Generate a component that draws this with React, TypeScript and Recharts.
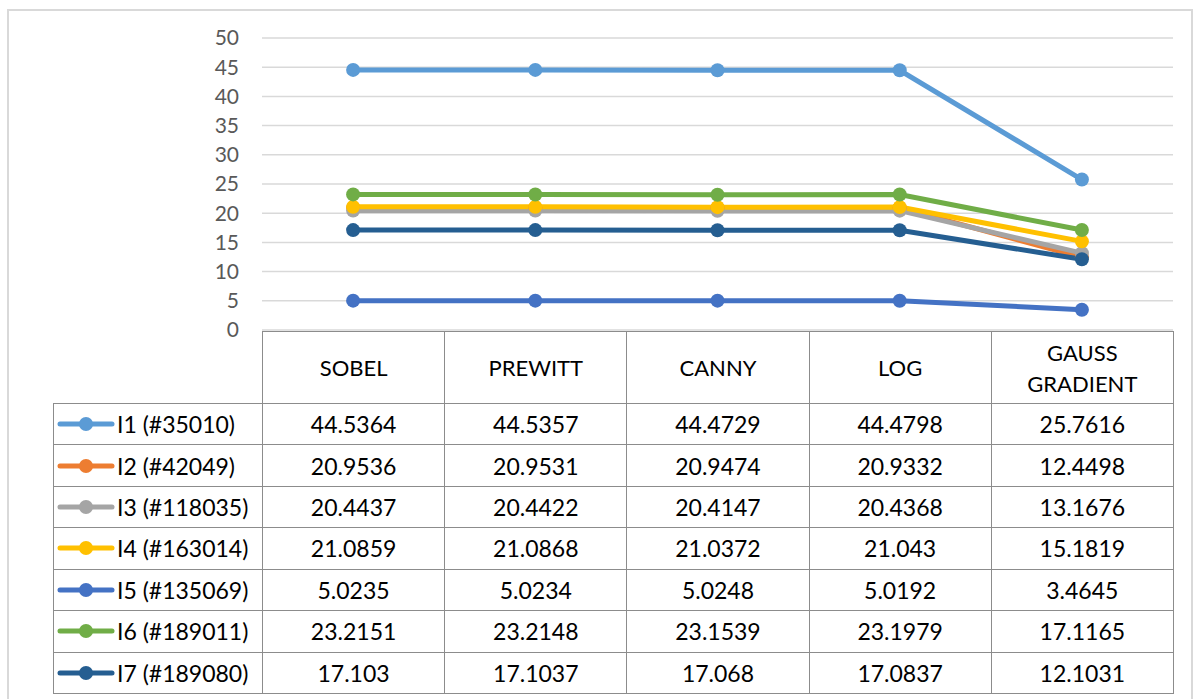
import { LineChart, Line, XAxis, YAxis, CartesianGrid } from "recharts";

const categories = ["SOBEL", "PREWITT", "CANNY", "LOG", "GAUSS GRADIENT"];
const seriesNames = [
  "I1 (#35010)",
  "I2 (#42049)",
  "I3 (#118035)",
  "I4 (#163014)",
  "I5 (#135069)",
  "I6 (#189011)",
  "I7 (#189080)",
];
const i1 = [44.5364, 44.5357, 44.4729, 44.4798, 25.7616];
const i2 = [20.9536, 20.9531, 20.9474, 20.9332, 12.4498];
const i3 = [20.4437, 20.4422, 20.4147, 20.4368, 13.1676];
const i4 = [21.0859, 21.0868, 21.0372, 21.043, 15.1819];
const i5 = [5.0235, 5.0234, 5.0248, 5.0192, 3.4645];
const i6 = [23.2151, 23.2148, 23.1539, 23.1979, 17.1165];
const i7 = [17.103, 17.1037, 17.068, 17.0837, 12.1031];
const yTicks = [0, 5, 10, 15, 20, 25, 30, 35, 40, 45, 50];

const seriesValues = [i1, i2, i3, i4, i5, i6, i7];
const colors = ["#5B9BD5", "#ED7D31", "#A5A5A5", "#FFC000", "#4472C4", "#70AD47", "#255E91"];

const data = categories.map((c, i) => {
  const row: Record<string, number | string> = { idx: i, name: c };
  seriesValues.forEach((vals, s) => {
    row[`s${s}`] = vals[i];
  });
  return row;
});

const FONT = "Lato, 'Open Sans', sans-serif";
const PLOT_LEFT = 262;
const PLOT_RIGHT = 1173;
const COL_W = (PLOT_RIGHT - PLOT_LEFT) / categories.length;
const TABLE_LEFT = 53;
const TABLE_TOP = 331;
const TABLE_BOTTOM = 693;
const HEADER_H = 72;
const ROW_H = (TABLE_BOTTOM - TABLE_TOP - HEADER_H) / seriesNames.length;
const BORDER = "1px solid #8c8c8c";

function LegendKey({ color }: { color: string }) {
  return (
    <svg width={58} height={16} style={{ display: "block", flex: "none" }}>
      <line x1={3} y1={8} x2={55} y2={8} stroke={color} strokeWidth={5} strokeLinecap="round" />
      <circle cx={29} cy={8} r={7} fill={color} />
    </svg>
  );
}

function DataTable() {
  const cell: React.CSSProperties = {
    border: BORDER,
    padding: 0,
    textAlign: "center",
    verticalAlign: "middle",
    fontSize: 23,
    color: "#000",
  };
  return (
    <table
      style={{
        position: "absolute",
        left: TABLE_LEFT,
        top: TABLE_TOP,
        width: PLOT_RIGHT - TABLE_LEFT,
        borderCollapse: "collapse",
        tableLayout: "fixed",
        fontFamily: FONT,
      }}
    >
      <colgroup>
        <col style={{ width: PLOT_LEFT - TABLE_LEFT }} />
        {categories.map((c) => (
          <col key={c} style={{ width: COL_W }} />
        ))}
      </colgroup>
      <tbody>
        <tr style={{ height: HEADER_H }}>
          <td style={{ padding: 0, border: "none" }} />
          {categories.map((c) => (
            <td key={c} style={{ ...cell, fontSize: 22, lineHeight: "31px" }}>
              {c === "GAUSS GRADIENT" ? (
                <>
                  GAUSS
                  <br />
                  GRADIENT
                </>
              ) : (
                c
              )}
            </td>
          ))}
        </tr>
        {seriesNames.map((name, s) => (
          <tr key={name} style={{ height: ROW_H }}>
            <td style={{ ...cell, textAlign: "left" }}>
              <div style={{ display: "flex", alignItems: "center", paddingLeft: 3 }}>
                <LegendKey color={colors[s]} />
                <span style={{ marginLeft: 2, whiteSpace: "nowrap" }}>{name}</span>
              </div>
            </td>
            {seriesValues[s].map((v, i) => (
              <td key={i} style={cell}>
                {String(v)}
              </td>
            ))}
          </tr>
        ))}
      </tbody>
    </table>
  );
}

export default function App() {
  return (
    <div
      style={{
        position: "absolute",
        left: 0,
        top: 0,
        width: 1202,
        height: 699,
        background: "#fff",
        overflow: "hidden",
      }}
    >
      <div
        style={{
          position: "absolute",
          left: 7,
          top: 9,
          width: 1182,
          height: 720,
          border: "2px solid #d9d9d9",
        }}
      />
      <div style={{ position: "absolute", left: 0, top: 0 }}>
        <LineChart
          width={1202}
          height={340}
          data={data}
          margin={{ top: 38, right: 1202 - PLOT_RIGHT, bottom: 10, left: PLOT_LEFT - 60 }}
        >
          <CartesianGrid vertical={false} stroke="#d9d9d9" strokeWidth={1.5} />
          <XAxis dataKey="idx" type="number" domain={[-0.5, categories.length - 0.5]} hide />
          <YAxis
            width={60}
            domain={[0, 50]}
            ticks={yTicks}
            interval={0}
            axisLine={false}
            tickLine={false}
            tickSize={0}
            tickMargin={23}
            tick={{ fill: "#595959", fontSize: 21, fontFamily: FONT }}
          />
          {seriesNames.map((name, s) => (
            <Line
              key={name}
              dataKey={`s${s}`}
              name={name}
              type="linear"
              stroke={colors[s]}
              strokeWidth={5}
              dot={{ r: 7, fill: colors[s], stroke: "none" }}
              activeDot={false}
              isAnimationActive={false}
            />
          ))}
        </LineChart>
      </div>
      <DataTable />
    </div>
  );
}
